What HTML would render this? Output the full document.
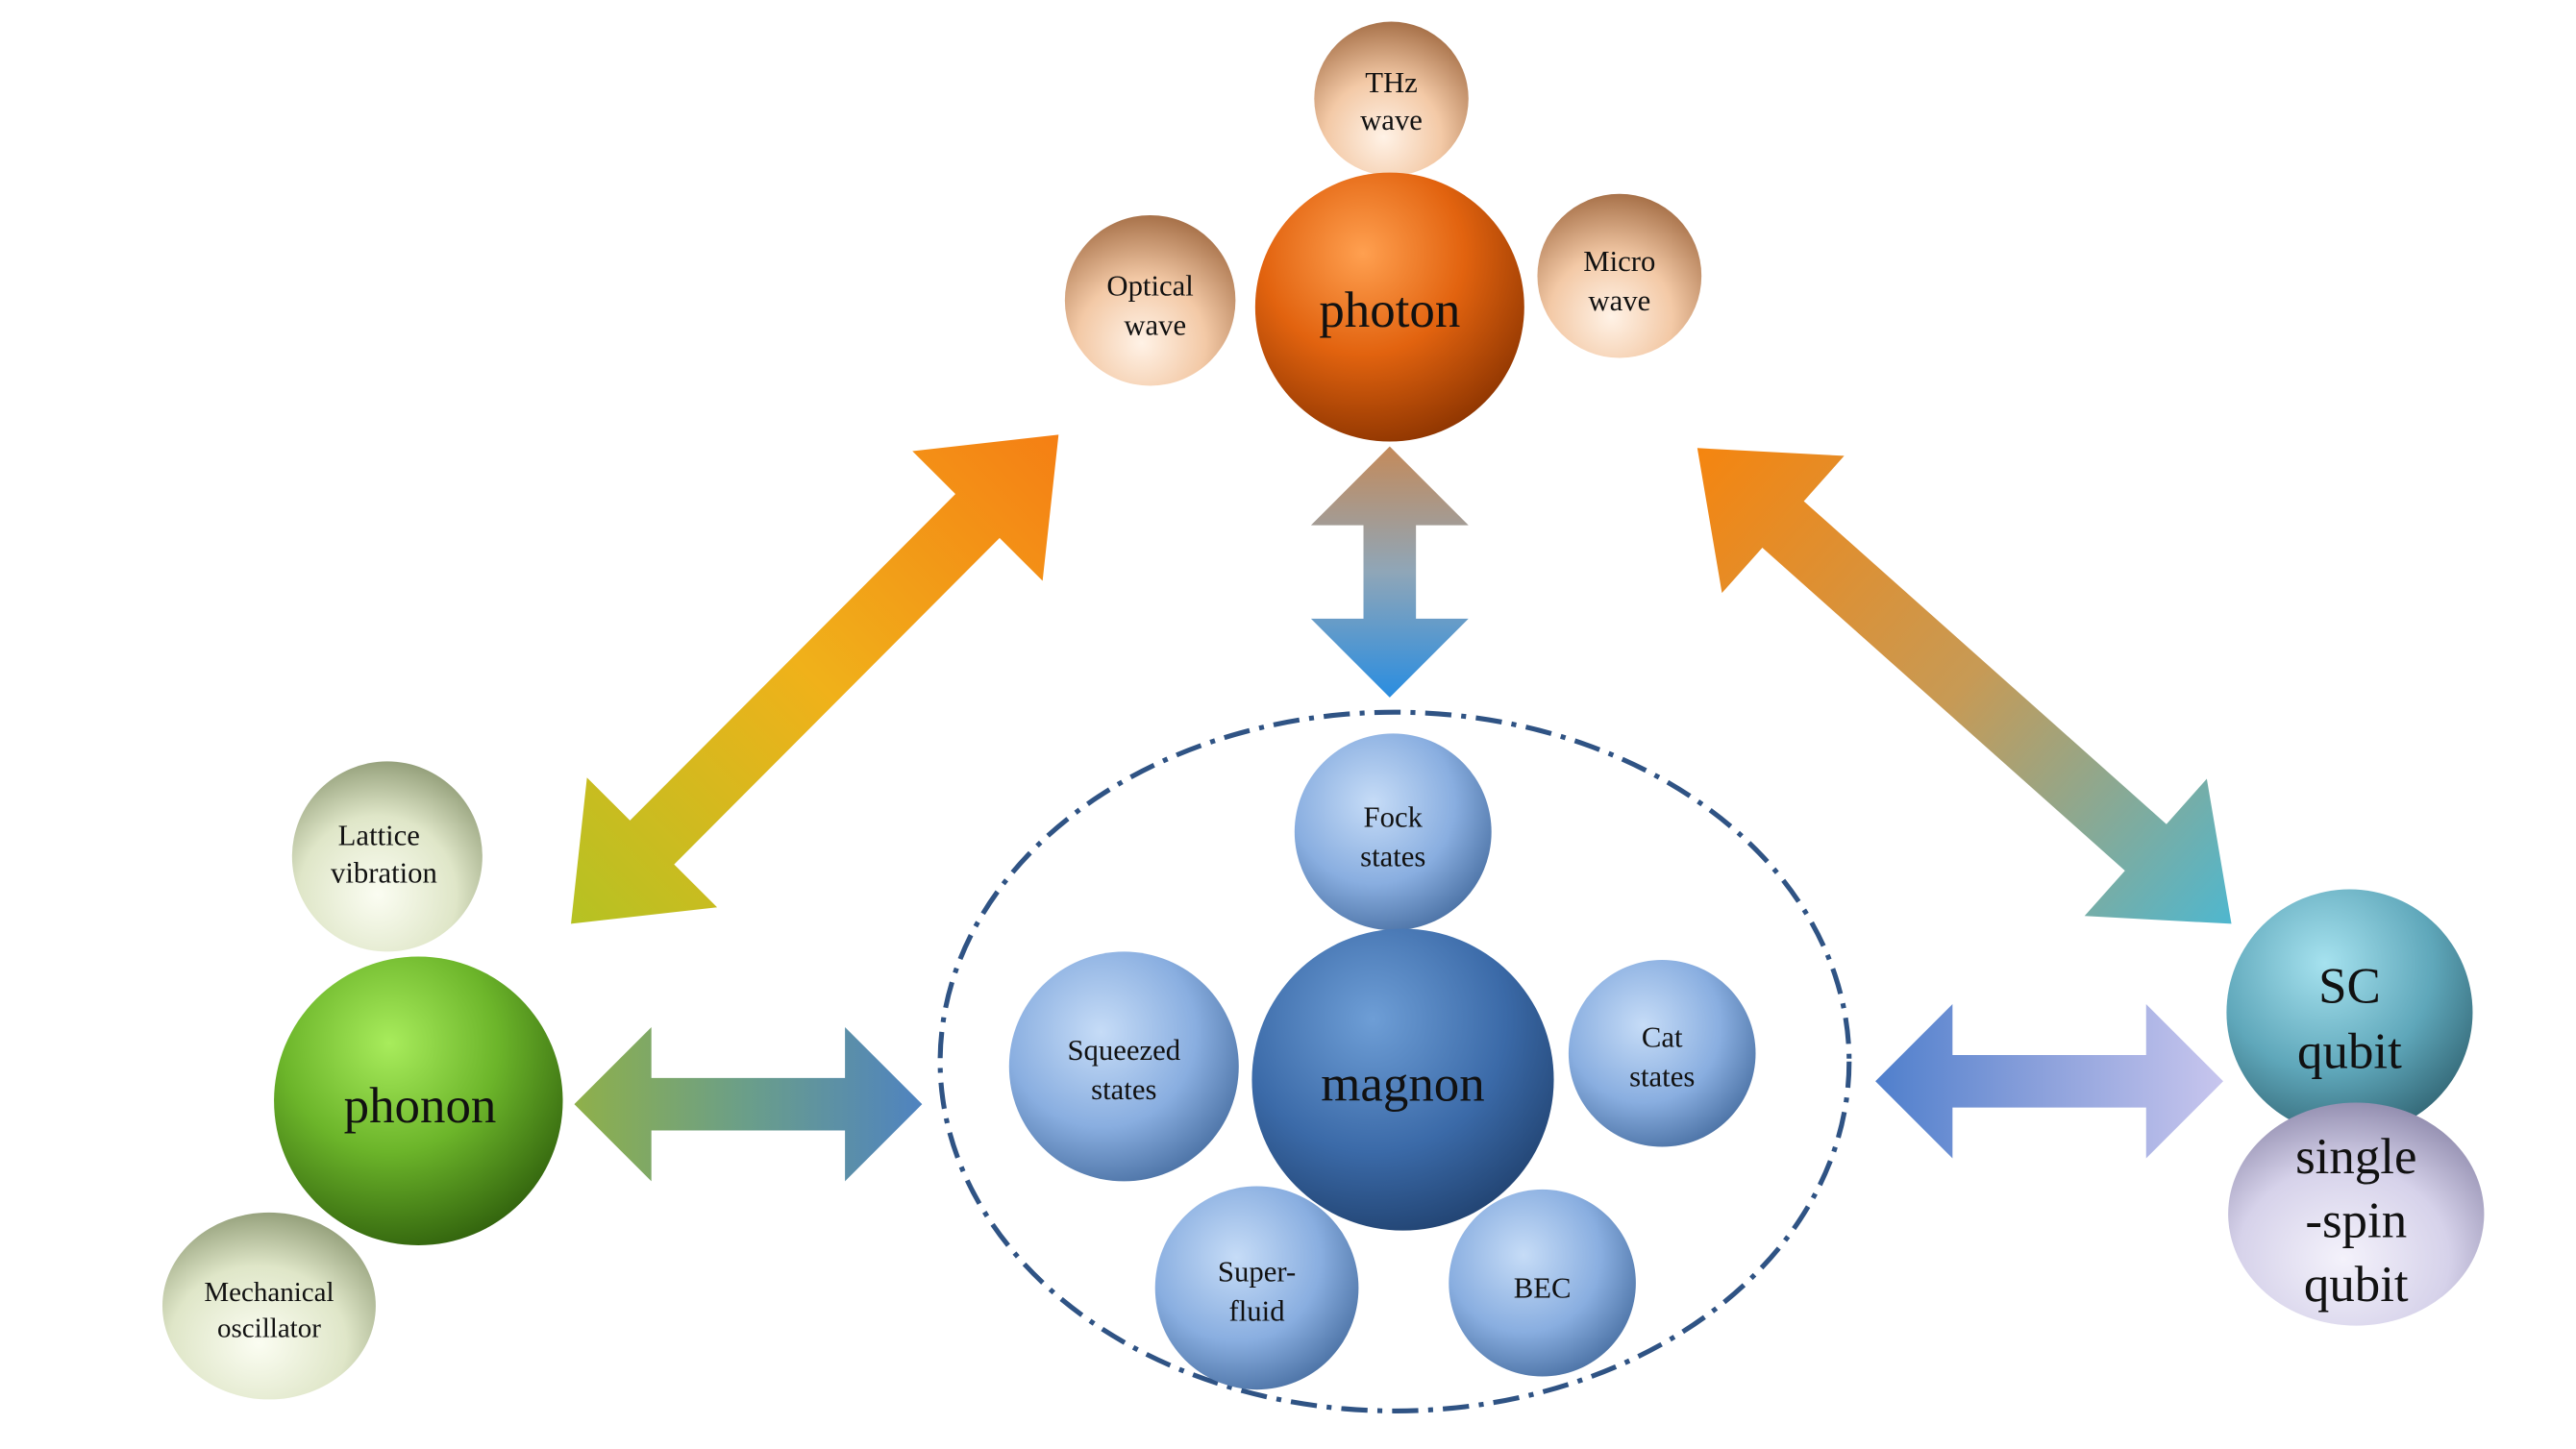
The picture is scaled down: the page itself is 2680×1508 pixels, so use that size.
<!DOCTYPE html>
<html><head><meta charset="utf-8"><style>
html,body{margin:0;padding:0;background:#fff;}
svg{display:block;}
text{font-family:"Liberation Serif",serif;text-anchor:middle;fill:#111;}
</style></head><body>
<svg width="2680" height="1508" viewBox="0 0 1570 883" xmlns="http://www.w3.org/2000/svg">
<defs>
<radialGradient id="gOr" cx="0.4" cy="0.3" r="0.75"><stop offset="0" stop-color="#ffa050"/><stop offset="0.5" stop-color="#e2630f"/><stop offset="1" stop-color="#8a3300"/></radialGradient>
<radialGradient id="gPe" cx="0.45" cy="0.75" r="0.75"><stop offset="0" stop-color="#fff2e6"/><stop offset="0.5" stop-color="#f3c9a6"/><stop offset="1" stop-color="#a8724a"/></radialGradient>
<radialGradient id="gGr" cx="0.4" cy="0.3" r="0.75"><stop offset="0" stop-color="#a8ec5c"/><stop offset="0.5" stop-color="#6cb52a"/><stop offset="1" stop-color="#2f5f0c"/></radialGradient>
<radialGradient id="gPg" cx="0.45" cy="0.7" r="0.75"><stop offset="0" stop-color="#fbfdf2"/><stop offset="0.55" stop-color="#dfe6c8"/><stop offset="1" stop-color="#8a9670"/></radialGradient>
<radialGradient id="gMg" cx="0.4" cy="0.3" r="0.8"><stop offset="0" stop-color="#6e9ed6"/><stop offset="0.55" stop-color="#3b6aa8"/><stop offset="1" stop-color="#1c3b66"/></radialGradient>
<radialGradient id="gLb" cx="0.4" cy="0.35" r="0.75"><stop offset="0" stop-color="#c6dcf7"/><stop offset="0.55" stop-color="#89aee0"/><stop offset="1" stop-color="#3f6699"/></radialGradient>
<radialGradient id="gSc" cx="0.4" cy="0.3" r="0.8"><stop offset="0" stop-color="#a6e2ef"/><stop offset="0.55" stop-color="#5fa7ba"/><stop offset="1" stop-color="#2a5a68"/></radialGradient>
<radialGradient id="gLv" cx="0.45" cy="0.7" r="0.75"><stop offset="0" stop-color="#f4f2fb"/><stop offset="0.55" stop-color="#d6d2ea"/><stop offset="1" stop-color="#8a85a8"/></radialGradient>
<linearGradient id="aL" gradientUnits="userSpaceOnUse" x1="0" y1="0" x2="421" y2="0"><stop offset="0" stop-color="#b5c223"/><stop offset="0.5" stop-color="#f0b11a"/><stop offset="1" stop-color="#f57f14"/></linearGradient>
<linearGradient id="aV" gradientUnits="userSpaceOnUse" x1="0" y1="0" x2="153" y2="0"><stop offset="0" stop-color="#2a8de0"/><stop offset="0.5" stop-color="#8fa6b8"/><stop offset="1" stop-color="#c48a5a"/></linearGradient>
<linearGradient id="aR" gradientUnits="userSpaceOnUse" x1="0" y1="0" x2="436" y2="0"><stop offset="0" stop-color="#4fb7cf"/><stop offset="0.5" stop-color="#c79a55"/><stop offset="1" stop-color="#f5850f"/></linearGradient>
<linearGradient id="aH1" gradientUnits="userSpaceOnUse" x1="0" y1="0" x2="212" y2="0"><stop offset="0" stop-color="#8fb04a"/><stop offset="0.5" stop-color="#6a9e8a"/><stop offset="1" stop-color="#4f83c0"/></linearGradient>
<linearGradient id="aH2" gradientUnits="userSpaceOnUse" x1="0" y1="0" x2="212" y2="0"><stop offset="0" stop-color="#4f7fcc"/><stop offset="0.5" stop-color="#8ea2dc"/><stop offset="1" stop-color="#c8c6ee"/></linearGradient>
</defs>

<g transform="translate(348,563) rotate(-45.1)"><polygon fill="url(#aL)" points="0,0 70,-56 70,-19 351,-19 351,-56 421,0 351,56 351,19 70,19 70,56"/></g>
<g transform="translate(847,425) rotate(-90)"><polygon fill="url(#aV)" points="0,0 48,-48 48,-16 105,-16 105,-48 153,0 105,48 105,16 48,16 48,48"/></g>
<g transform="translate(1360,563) rotate(-138.3)"><polygon fill="url(#aR)" points="0,0 70,-56 70,-19 366,-19 366,-56 436,0 366,56 366,19 70,19 70,56"/></g>
<g transform="translate(350,673)"><polygon fill="url(#aH1)" points="0,0 47,-47 47,-16 165,-16 165,-47 212,0 165,47 165,16 47,16 47,47"/></g>
<g transform="translate(1143,659)"><polygon fill="url(#aH2)" points="0,0 47,-47 47,-16 165,-16 165,-47 212,0 165,47 165,16 47,16 47,47"/></g>

<ellipse cx="850" cy="647" rx="277" ry="213" fill="none" stroke="#2f5384" stroke-width="3" stroke-dasharray="16,6,3,6"/>

<circle cx="848" cy="60" r="47" fill="url(#gPe)"/>
<text x="848" y="56" font-size="18">THz</text><text x="848" y="79" font-size="18">wave</text>
<circle cx="701" cy="183" r="52" fill="url(#gPe)"/>
<text x="701" y="180" font-size="18">Optical</text><text x="704" y="204" font-size="18">wave</text>
<circle cx="987" cy="168" r="50" fill="url(#gPe)"/>
<text x="987" y="165" font-size="18">Micro</text><text x="987" y="189" font-size="18">wave</text>
<circle cx="847" cy="187" r="82" fill="url(#gOr)"/>
<text x="847" y="199" font-size="31">photon</text>

<circle cx="236" cy="522" r="58" fill="url(#gPg)"/>
<text x="231" y="515" font-size="18">Lattice</text><text x="234" y="538" font-size="18">vibration</text>
<ellipse cx="164" cy="796" rx="65" ry="57" fill="url(#gPg)"/>
<text x="164" y="793" font-size="17">Mechanical</text><text x="164" y="815" font-size="17">oscillator</text>
<circle cx="255" cy="671" r="88" fill="url(#gGr)"/>
<text x="256" y="684" font-size="31">phonon</text>

<circle cx="849" cy="507" r="60" fill="url(#gLb)"/>
<text x="849" y="504" font-size="18">Fock</text><text x="849" y="528" font-size="18">states</text>
<circle cx="685" cy="650" r="70" fill="url(#gLb)"/>
<text x="685" y="646" font-size="18">Squeezed</text><text x="685" y="670" font-size="18">states</text>
<circle cx="1013" cy="642" r="57" fill="url(#gLb)"/>
<text x="1013" y="638" font-size="18">Cat</text><text x="1013" y="662" font-size="18">states</text>
<circle cx="766" cy="785" r="62" fill="url(#gLb)"/>
<text x="766" y="781" font-size="18">Super-</text><text x="766" y="805" font-size="18">fluid</text>
<circle cx="940" cy="782" r="57" fill="url(#gLb)"/>
<text x="940" y="791" font-size="18">BEC</text>
<circle cx="855" cy="658" r="92" fill="url(#gMg)"/>
<text x="855" y="671" font-size="31">magnon</text>

<circle cx="1432" cy="617" r="75" fill="url(#gSc)"/>
<text x="1432" y="611" font-size="31">SC</text><text x="1432" y="651" font-size="31">qubit</text>
<ellipse cx="1436" cy="740" rx="78" ry="68" fill="url(#gLv)"/>
<text x="1436" y="715" font-size="31">single</text><text x="1436" y="754" font-size="31">-spin</text><text x="1436" y="793" font-size="31">qubit</text>
</svg>
</body></html>
